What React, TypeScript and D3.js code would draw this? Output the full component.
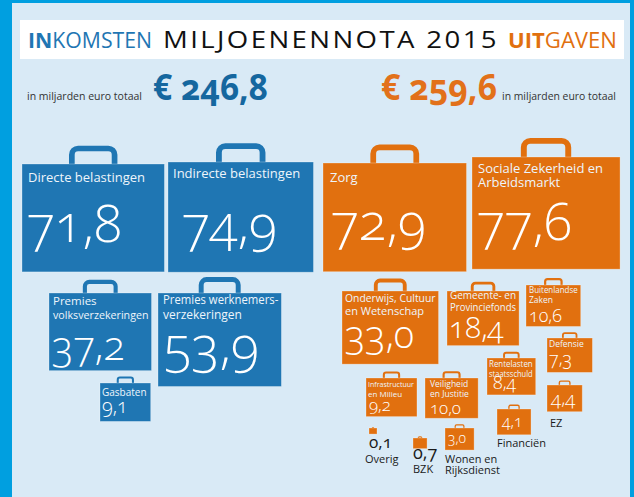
import React, { useEffect, useRef } from "react";
import * as d3 from "d3";

// ---------- data ----------
const categories = [
  "Directe belastingen",
  "Indirecte belastingen",
  "Premies volksverzekeringen",
  "Premies werknemersverzekeringen",
  "Gasbaten",
  "Zorg",
  "Sociale Zekerheid en Arbeidsmarkt",
  "Onderwijs, Cultuur en Wetenschap",
  "Gemeente- en Provinciefonds",
  "Buitenlandse Zaken",
  "Defensie",
  "Rentelasten staatsschuld",
  "EZ",
  "Infrastructuur en Milieu",
  "Veiligheid en Justitie",
  "Financiën",
  "Wonen en Rijksdienst",
  "BZK",
  "Overig",
];
const values = [71.8, 74.9, 37.2, 53.9, 9.1, 72.9, 77.6, 33.0, 18.4, 10.6, 7.3, 8.4, 4.4, 9.2, 10.0, 4.1, 3.0, 0.7, 0.1];
const sides = ["in", "in", "in", "in", "in", "out", "out", "out", "out", "out", "out", "out", "out", "out", "out", "out", "out", "out", "out"];
const labelLines = [
  ["Directe belastingen"],
  ["Indirecte belastingen"],
  ["Premies", "volksverzekeringen"],
  ["Premies werknemers-", "verzekeringen"],
  ["Gasbaten"],
  ["Zorg"],
  ["Sociale Zekerheid en", "Arbeidsmarkt"],
  ["Onderwijs, Cultuur", "en Wetenschap"],
  ["Gemeente- en", "Provinciefonds"],
  ["Buitenlandse", "Zaken"],
  ["Defensie"],
  ["Rentelasten", "staatsschuld"],
  ["EZ"],
  ["Infrastructuur", "en Milieu"],
  ["Veiligheid", "en Justitie"],
  ["Financiën"],
  ["Wonen en", "Rijksdienst"],
  ["BZK"],
  ["Overig"],
];
const totalIn = "€ 246,8";
const totalOut = "€ 259,6";
const totalCaption = "in miljarden euro totaal";

// ---------- layout (positions / sizes / styles) ----------
type L = {
  x: number; y: number; ls: number; lx: number; ly: number; lh: number;
  vs: number; vx: number; vy: number; mode: "in" | "valIn" | "out";
};
const layout: L[] = [
  { x: 22, y: 164, ls: 13, lx: 6, ly: 18, lh: 14, vs: 52, vx: 5, vy: 78, mode: "in" },
  { x: 168, y: 162, ls: 13, lx: 5, ly: 16, lh: 14, vs: 52, vx: 14, vy: 80, mode: "in" },
  { x: 49, y: 293, ls: 11.5, lx: 4, ly: 12, lh: 14, vs: 40, vx: 3, vy: 67, mode: "in" },
  { x: 158, y: 293, ls: 12, lx: 5, ly: 11, lh: 15, vs: 52, vx: 6, vy: 70, mode: "in" },
  { x: 100, y: 383, ls: 10, lx: 2, ly: 13, lh: 12, vs: 20, vx: 2, vy: 30, mode: "in" },
  { x: 323, y: 163, ls: 13, lx: 7, ly: 19, lh: 14, vs: 52, vx: 8, vy: 77, mode: "in" },
  { x: 472, y: 157, ls: 13, lx: 6, ly: 16, lh: 14, vs: 52, vx: 5, vy: 83, mode: "in" },
  { x: 342, y: 291, ls: 11, lx: 3, ly: 11, lh: 13, vs: 38, vx: 3, vy: 57, mode: "in" },
  { x: 447, y: 291, ls: 10, lx: 3, ly: 8, lh: 12, vs: 30, vx: 2, vy: 47, mode: "in" },
  { x: 526, y: 285, ls: 8.5, lx: 3, ly: 8, lh: 10, vs: 18, vx: 3, vy: 37, mode: "in" },
  { x: 547, y: 338, ls: 8.5, lx: 2, ly: 9, lh: 10, vs: 18, vx: 2, vy: 27, mode: "in" },
  { x: 487, y: 358, ls: 8.5, lx: 2, ly: 9, lh: 10, vs: 18, vx: 6, vy: 31, mode: "in" },
  { x: 547, y: 385, ls: 11, lx: 3, ly: 42, lh: 12, vs: 19, vx: 4, vy: 20, mode: "valIn" },
  { x: 366, y: 378, ls: 8, lx: 2, ly: 9, lh: 10, vs: 17, vx: 3, vy: 33, mode: "in" },
  { x: 425, y: 378, ls: 8.5, lx: 5, ly: 9, lh: 10, vs: 17, vx: 5, vy: 36, mode: "in" },
  { x: 497, y: 409, ls: 11, lx: 0, ly: 38, lh: 12, vs: 16, vx: 5, vy: 18, mode: "valIn" },
  { x: 445, y: 428, ls: 11, lx: 0, ly: 35, lh: 11, vs: 14, vx: 3, vy: 15, mode: "valIn" },
  { x: 413, y: 438, ls: 11, lx: 0, ly: 35, lh: 12, vs: 18, vx: 0, vy: 21, mode: "out" },
  { x: 369, y: 428, ls: 11, lx: -4, ly: 35, lh: 12, vs: 17, vx: 0, vy: 20, mode: "out" },
];

const W = 634;
const H = 497;
const ASPECT = 1.32;
const BLUE = "#1f76b3";
const ORANGE = "#e1700f";
const FONT = "'Open Sans', 'Noto Sans', sans-serif";

// area proportional to value
const widthScale = d3.scaleSqrt().domain([0, 100]).range([0, Math.sqrt(214 * 100 * ASPECT)]);
const fmt = (v: number) => d3.format(".1f")(v).replace(".", ",");
const onum = { fontFeatureSettings: "'onum' 1", fontVariantNumeric: "oldstyle-nums" } as React.CSSProperties;

function Case({ i }: { i: number }) {
  const l = layout[i];
  const v = values[i];
  const w = Math.max(widthScale(v), 8);
  const h = w / ASPECT;
  const fill = sides[i] === "in" ? BLUE : ORANGE;
  const hw = w * 0.34;
  const hh = h * 0.17;
  const t = Math.max(1.2, w * 0.04);
  const cx = l.x + w / 2;
  const lines = labelLines[i];
  return (
    <g>
      <rect
        x={cx - hw / 2 + t / 2}
        y={l.y - hh + t / 2}
        width={hw - t}
        height={hh + t}
        rx={t * 1.1}
        fill="none"
        stroke={fill}
        strokeWidth={t}
      />
      <rect x={l.x} y={l.y} width={w} height={h} fill={fill} stroke="rgba(255,255,255,0.35)" strokeWidth={0.8} />
      {l.mode === "in" &&
        lines.map((s, k) => (
          <text
            key={k}
            className="fit"
            data-maxw={w - l.lx - 3}
            x={l.x + l.lx}
            y={l.y + l.ly + k * l.lh}
            fontSize={l.ls}
            fill="#eef5fb"
          >
            {s}
          </text>
        ))}
      {l.mode !== "out" && (
        <text x={l.x + l.vx} y={l.y + l.vy} fontSize={l.vs} fill="#ffffff" fontWeight={300} style={onum}>
          {fmt(v)}
        </text>
      )}
      {l.mode === "out" && (
        <text x={l.x + l.vx} y={l.y + l.vy} fontSize={l.vs} fill="#1a1a1a" style={onum}>
          {fmt(v)}
        </text>
      )}
      {l.mode !== "in" &&
        lines.map((s, k) => (
          <text key={"o" + k} x={l.x + l.lx} y={l.y + l.ly + k * l.lh} fontSize={l.ls} fill="#1a1a1a">
            {s}
          </text>
        ))}
    </g>
  );
}

export default function App() {
  const ref = useRef<SVGSVGElement>(null);
  useEffect(() => {
    if (!ref.current) return;
    d3.select(ref.current)
      .selectAll<SVGTextElement, unknown>("text.fit")
      .each(function () {
        const maxw = +(this.getAttribute("data-maxw") || 0);
        const len = this.getComputedTextLength();
        if (maxw > 0 && len > maxw) {
          this.setAttribute("textLength", String(maxw));
          this.setAttribute("lengthAdjust", "spacingAndGlyphs");
        }
      });
  }, []);
  return (
    <svg ref={ref} width={W} height={H} style={{ position: "absolute", left: 0, top: 0 }} fontFamily={FONT}>
      <rect x={0} y={0} width={W} height={H} fill="#d9eaf6" />
      <rect x={0} y={0} width={W} height={3} fill="#009fe0" />
      <rect x={0} y={0} width={12} height={H} fill="#009fe0" />
      <rect x={630} y={0} width={4} height={H} fill="#009fe0" />
      <rect x={20} y={20} width={604} height={39} fill="#ffffff" />
      <text x={28} y={48} fontSize={21} fill="#1f76b3" textLength={124} lengthAdjust="spacingAndGlyphs">
        <tspan fontWeight={700}>IN</tspan>
        <tspan>KOMSTEN</tspan>
      </text>
      <text x={163} y={48} fontSize={23} fill="#111" letterSpacing={2} textLength={336} lengthAdjust="spacingAndGlyphs">
        MILJOENENNOTA 2015
      </text>
      <text x={508} y={48} fontSize={21} fill={ORANGE} textLength={109} lengthAdjust="spacingAndGlyphs">
        <tspan fontWeight={700}>UIT</tspan>
        <tspan>GAVEN</tspan>
      </text>

      <text x={27} y={100} fontSize={10.5} fill="#333" textLength={115} lengthAdjust="spacingAndGlyphs">
        {totalCaption}
      </text>
      <text x={153} y={100} fontSize={35} fontWeight={700} fill="#15679f" style={onum} textLength={115} lengthAdjust="spacingAndGlyphs">
        {totalIn}
      </text>
      <text x={381} y={100} fontSize={35} fontWeight={700} fill="#e2711a" style={onum} textLength={116} lengthAdjust="spacingAndGlyphs">
        {totalOut}
      </text>
      <text x={502} y={100} fontSize={10.5} fill="#333" textLength={114} lengthAdjust="spacingAndGlyphs">
        {totalCaption}
      </text>

      {categories.map((c, i) => (
        <Case key={c} i={i} />
      ))}
    </svg>
  );
}
